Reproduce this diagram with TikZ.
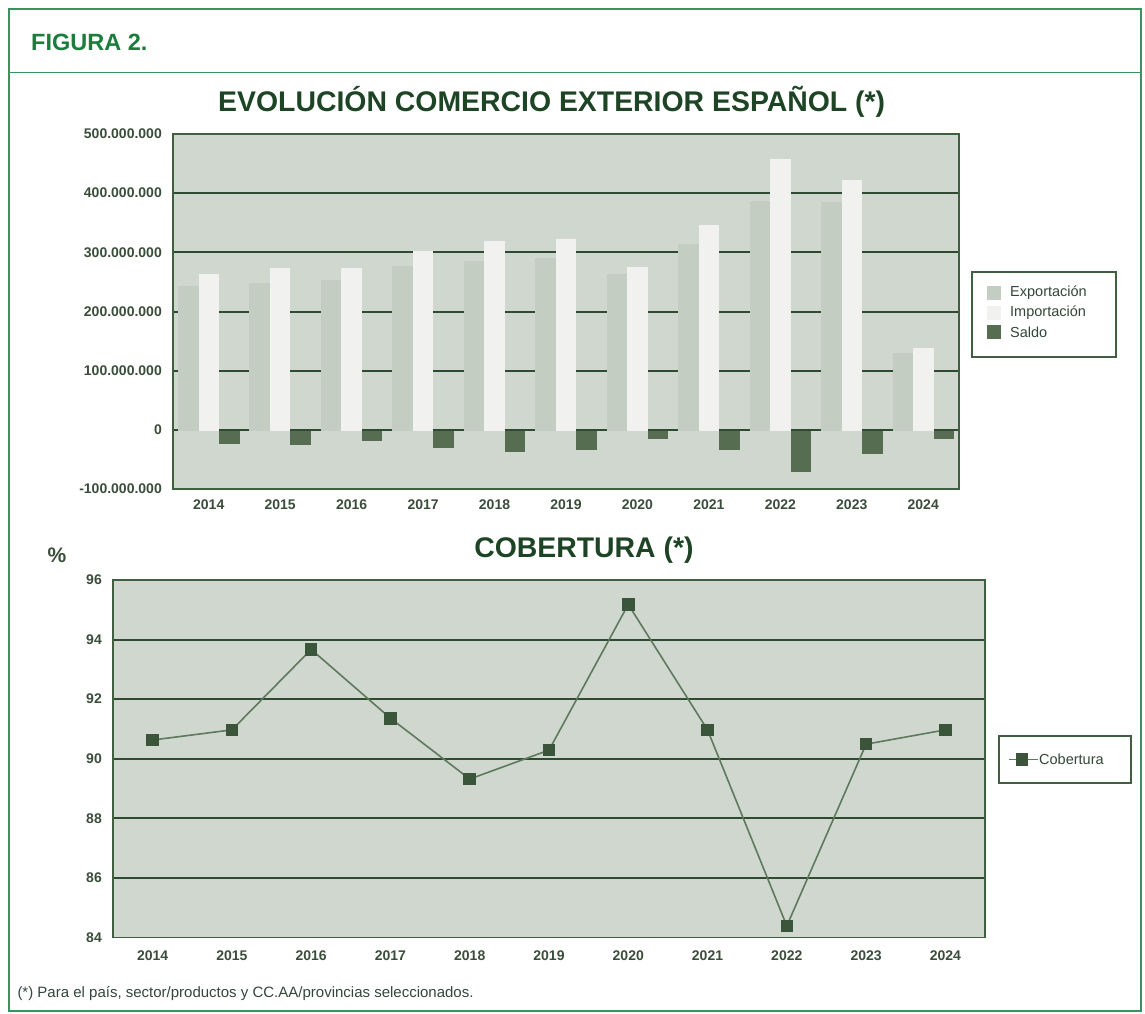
\documentclass[tikz,border=0pt]{standalone}
\usepackage{fontspec}
\setmainfont{Liberation Sans}
\definecolor{frameg}{HTML}{3A935E}
\definecolor{headg}{HTML}{1A7D3C}
\definecolor{titleg}{HTML}{1D4424}
\definecolor{axc}{HTML}{3A4D3A}
\definecolor{legc}{HTML}{33463A}
\definecolor{plotbg}{HTML}{D0D7CF}
\definecolor{expc}{HTML}{C3CDC2}
\definecolor{impc}{HTML}{F1F2F0}
\definecolor{salc}{HTML}{566D51}
\definecolor{gridc}{HTML}{2E4A30}
\definecolor{borderc}{HTML}{3F5F40}
\definecolor{linec}{HTML}{5E7A5C}
\definecolor{markc}{HTML}{3B553A}
\newcommand\axfont{\fontsize{14}{16}\selectfont\bfseries}
\newcommand\legfont{\fontsize{14.5}{16}\selectfont}
\newcommand\ttlfont{\fontsize{28.4}{32}\selectfont\bfseries}
\begin{document}
\begin{tikzpicture}[x=1pt,y=-1pt,
  axlab/.style={font=\axfont, text=axc, inner sep=0pt},
  leglab/.style={font=\legfont, text=legc, inner sep=0pt, anchor=west},
  ttl/.style={font=\ttlfont, text=titleg, inner sep=0pt, anchor=base},
  gridln/.style={gridc, line width=2pt},
  plotframe/.style={borderc, line width=1.6pt},
  legbox/.style={borderc, line width=1.5pt, fill=white},
  marksq/.style={fill=markc, draw=none, minimum size=12.5pt, inner sep=0pt, rectangle},
  covline/.style={linec, line width=1.6pt}]
\useasboundingbox (0,0) rectangle (1145,1013);
% outer frame
\draw[frameg, line width=1.5pt] (9,9) rectangle (1141,1011);
\draw[frameg, line width=1.5pt] (9,72.7) -- (1141,72.7);
\node[font=\fontsize{23.5}{26}\selectfont\bfseries, text=headg, inner sep=0pt, anchor=base west] (fig) at (31,50) {FIGURA 2.};
% ---------- bar chart ----------
\node[ttl] (t1) at (551.7,111.7) {EVOLUCIÓN COMERCIO EXTERIOR ESPAÑOL (*)};
\fill[plotbg] (173,134) rectangle (959,489);
\foreach \k in {1,...,5} {
  \draw[gridln] (173,{134+\k*59.17}) -- (959,{134+\k*59.17});
}
\foreach \e/\m/\s [count=\i from 0] in {245/266/-22.5, 250/275/-23, 256/275/-17, 279/304/-28, 287/321/-36, 293/324/-32, 265/278/-13.5, 316/348/-32, 389/459/-69, 387/425/-39, 131/141/-13.5} {
  \pgfmathsetmacro\xl{173+\i*71.45}
  \fill[expc] (\xl+5,431) rectangle (\xl+25.5,{431-(\e)*0.5917});
  \fill[impc] (\xl+25.5,431) rectangle (\xl+46,{431-(\m)*0.5917});
  \fill[salc] (\xl+46,431) rectangle (\xl+66.5,{431-(\s)*0.5917});
}
\draw[plotframe] (173,134) rectangle (959,489);
\foreach \lab [count=\k from 0] in {500.000.000,400.000.000,300.000.000,200.000.000,100.000.000,0,-100.000.000} {
  \node[axlab, anchor=east] (by\k) at (162,{134+\k*59.17}) {\lab};
}
\foreach \yr [count=\i from 0] in {2014,...,2024} {
  \node[axlab] (bx\i) at ({173+(\i+0.5)*71.45},505) {\yr};
}
% legend 1
\draw[legbox] (972,272) rectangle (1116,357);
\fill[expc] (987,286) rectangle (1001,300);
\fill[impc] (987,306) rectangle (1001,320);
\fill[salc] (987,325) rectangle (1001,339);
\node[leglab] (l1) at (1010,293) {Exportación};
\node[leglab] (l2) at (1010,313) {Importación};
\node[leglab] (l3) at (1010,332) {Saldo};
% ---------- line chart ----------
\node[ttl] (t2) at (583.9,557.3) {COBERTURA (*)};
\node[font=\fontsize{21}{24}\selectfont\bfseries, text=axc, inner sep=0pt] (pct) at (57,555) {\%};
\fill[plotbg] (113,580) rectangle (985,937.5);
\foreach \k in {1,...,5} {
  \draw[gridln] (113,{580+\k*59.58}) -- (985,{580+\k*59.58});
}
\draw[plotframe] (113,580) rectangle (985,937.5);
\foreach \lab [count=\k from 0] in {96,94,92,90,88,86,84} {
  \node[axlab, anchor=east] (ly\k) at (102,{580+\k*59.58}) {\lab};
}
\foreach \yr [count=\i from 0] in {2014,...,2024} {
  \node[axlab] (lx\i) at ({113+(\i+0.5)*79.27},956) {\yr};
}
\foreach \v [count=\i from 0] in {90.63,90.97,93.67,91.36,89.32,90.29,95.18,90.97,84.39,90.49,90.97} {
  \coordinate (p\i) at ({113+(\i+0.5)*79.27},{937.5-((\v)-84)*29.79});
}
\draw[covline] (p0) -- (p1) -- (p2) -- (p3) -- (p4) -- (p5) -- (p6) -- (p7) -- (p8) -- (p9) -- (p10);
\foreach \i in {0,...,10} {
  \node[marksq] (m\i) at (p\i) {};
}
% legend 2
\draw[legbox] (999,736) rectangle (1131,783);
\coordinate (lga) at (1009,759.5);
\coordinate (lgb) at (1038,759.5);
\draw[covline] (lga) -- (lgb);
\node[marksq] (lgm) at (1022,759.5) {};
\node[leglab] (l4) at (1039,759.5) {Cobertura};
% footnote
\node[font=\fontsize{15}{17}\selectfont, text=legc, inner sep=0pt, anchor=base west] (fn) at (17.3,997.3) {(*) Para el país, sector/productos y CC.AA/provincias seleccionados.};
\end{tikzpicture}
\end{document}
